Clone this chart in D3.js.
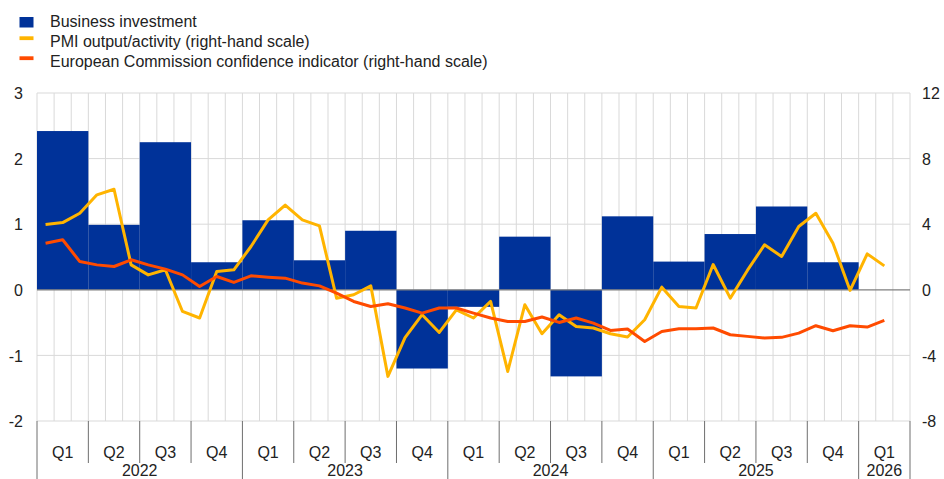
<!DOCTYPE html>
<html>
<head>
<meta charset="utf-8">
<script src="https://cdn.jsdelivr.net/npm/d3@7"></script>
<style>
  html, body { margin: 0; padding: 0; background: #fff; }
  svg { display: block; }
  text { font-family: "Liberation Sans", Arial, sans-serif; font-size: 16px; fill: #222; }
</style>
</head>
<body>
<svg id="chart" width="944" height="479"></svg>
<script>
// ---- Data ----
const quarterLabels = ["Q1","Q2","Q3","Q4","Q1","Q2","Q3","Q4","Q1","Q2","Q3","Q4","Q1","Q2","Q3","Q4","Q1"];
const yearLabels = ["2022","2023","2024","2025","2026"];
const yearQuarterCounts = [4,4,4,4,1];
// Business investment, quarterly (left-hand scale)
const investment = [2.42,0.99,2.25,0.42,1.06,0.45,0.90,-1.20,-0.26,0.81,-1.32,1.12,0.43,0.85,1.27,0.42,null];
// Monthly series from Jan 2022 (right-hand scale)
const pmi = [3.98,4.10,4.67,5.79,6.13,1.52,0.91,1.22,-1.32,-1.72,1.11,1.22,
             2.64,4.26,5.16,4.26,3.90,-0.51,-0.30,0.24,-5.28,-2.92,-1.52,-2.60,
             -1.22,-1.72,-0.71,-4.98,-0.91,-2.68,-1.52,-2.24,-2.33,-2.68,-2.88,-1.83,
             0.16,-1.02,-1.11,1.54,-0.51,1.18,2.74,2.03,3.86,4.67,2.84,-0.04,
             2.19,1.46];
const ec = [2.84,3.05,1.72,1.52,1.42,1.83,1.52,1.26,0.91,0.20,0.81,0.45,
            0.85,0.77,0.71,0.41,0.24,-0.20,-0.71,-1.02,-0.85,-1.11,-1.42,-1.11,
            -1.11,-1.42,-1.72,-1.93,-1.93,-1.66,-1.99,-1.72,-2.03,-2.48,-2.39,-3.15,
            -2.54,-2.38,-2.38,-2.33,-2.74,-2.84,-2.94,-2.90,-2.64,-2.19,-2.50,-2.19,
            -2.27,-1.87];
const leftTicks = [-2,-1,0,1,2,3];
const rightTicks = [-8,-4,0,4,8,12];
const legendItems = [
  {label: "Business investment", type: "rect", color: "#003299"},
  {label: "PMI output/activity (right-hand scale)", type: "line", color: "#ffb400"},
  {label: "European Commission confidence indicator (right-hand scale)", type: "line", color: "#ff4b00"}
];

// ---- Layout ----
const L = 37, R = 910, T = 93, B = 421;
const nMonths = quarterLabels.length * 3;
const svg = d3.select("#chart");

const x = d3.scaleLinear().domain([0, nMonths]).range([L, R]);
const yL = d3.scaleLinear().domain([-2, 3]).range([B, T]);
const yR = d3.scaleLinear().domain([-8, 12]).range([B, T]);
const fmt = d => String(d);

// Grid
const grid = svg.append("g");
grid.selectAll("line.v").data(d3.range(0, nMonths + 1)).join("line")
  .attr("x1", d => x(d)).attr("x2", d => x(d))
  .attr("y1", T).attr("y2", B)
  .attr("stroke", "#d9d9d9").attr("stroke-width", 1);
grid.selectAll("line.h").data(leftTicks.filter(d => d !== 0)).join("line")
  .attr("x1", L).attr("x2", R)
  .attr("y1", d => yL(d)).attr("y2", d => yL(d))
  .attr("stroke", "#d9d9d9").attr("stroke-width", 1);

// Bars
svg.append("g").selectAll("rect").data(investment.map((v, i) => ({v, i})).filter(d => d.v !== null))
  .join("rect")
  .attr("x", d => x(d.i * 3))
  .attr("width", d => x(d.i * 3 + 3) - x(d.i * 3))
  .attr("y", d => yL(Math.max(0, d.v)))
  .attr("height", d => Math.abs(yL(d.v) - yL(0)))
  .attr("fill", "#003299");

// Zero line
svg.append("line").attr("x1", L).attr("x2", R)
  .attr("y1", yL(0)).attr("y2", yL(0))
  .attr("stroke", "#7f7f7f").attr("stroke-width", 1.2);

// Lines
const line = d3.line().x((d, i) => x(i + 0.5)).y(d => yR(d));
svg.append("path").datum(pmi).attr("d", line)
  .attr("fill", "none").attr("stroke", "#ffb400").attr("stroke-width", 3)
  .attr("stroke-linejoin", "round");
svg.append("path").datum(ec).attr("d", line)
  .attr("fill", "none").attr("stroke", "#ff4b00").attr("stroke-width", 3)
  .attr("stroke-linejoin", "round");

// Y axes
const axL = svg.append("g").attr("transform", `translate(${L},0)`)
  .call(d3.axisLeft(yL).tickValues(leftTicks).tickSize(0).tickPadding(14).tickFormat(fmt));
axL.select(".domain").remove();
axL.selectAll("text").attr("dy", "0.35em");
const axR = svg.append("g").attr("transform", `translate(${R},0)`)
  .call(d3.axisRight(yR).tickValues(rightTicks).tickSize(0).tickPadding(12).tickFormat(fmt));
axR.select(".domain").remove();
axR.selectAll("text").attr("dy", "0.35em");
svg.selectAll(".tick text").style("font-family", "'Liberation Sans', Arial, sans-serif").style("font-size", "16px").attr("fill", "#222");

// X axis: quarter separators and labels
const xa = svg.append("g");
const yearStarts = [];
let acc = 0;
yearQuarterCounts.forEach(c => { yearStarts.push(acc); acc += c; });
const yearBoundaries = new Set([...yearStarts, acc]);
xa.selectAll("line.q").data(d3.range(0, quarterLabels.length + 1)).join("line")
  .attr("x1", d => x(d * 3)).attr("x2", d => x(d * 3))
  .attr("y1", B).attr("y2", d => yearBoundaries.has(d) ? 479 : 463)
  .attr("stroke", "#6e6e6e").attr("stroke-width", 1);
xa.selectAll("text.q").data(quarterLabels).join("text")
  .attr("x", (d, i) => x(i * 3 + 1.5)).attr("y", 457.5)
  .attr("text-anchor", "middle").text(d => d);
xa.selectAll("text.y").data(yearLabels).join("text")
  .attr("x", (d, i) => x((yearStarts[i] + yearQuarterCounts[i] / 2) * 3)).attr("y", 476)
  .attr("text-anchor", "middle").text(d => d);

// Legend
const lg = svg.append("g");
const baselines = [27.2, 47, 67];
legendItems.forEach((it, i) => {
  if (it.type === "rect") {
    lg.append("rect").attr("x", 19.5).attr("y", baselines[i] - 10.2).attr("width", 14).attr("height", 10.5).attr("fill", it.color);
  } else {
    lg.append("rect").attr("x", 19.5).attr("y", baselines[i] - 10.7).attr("width", 14).attr("height", 3.8).attr("fill", it.color);
  }
  lg.append("text").attr("x", 50).attr("y", baselines[i]).text(it.label);
});
</script>
</body>
</html>
